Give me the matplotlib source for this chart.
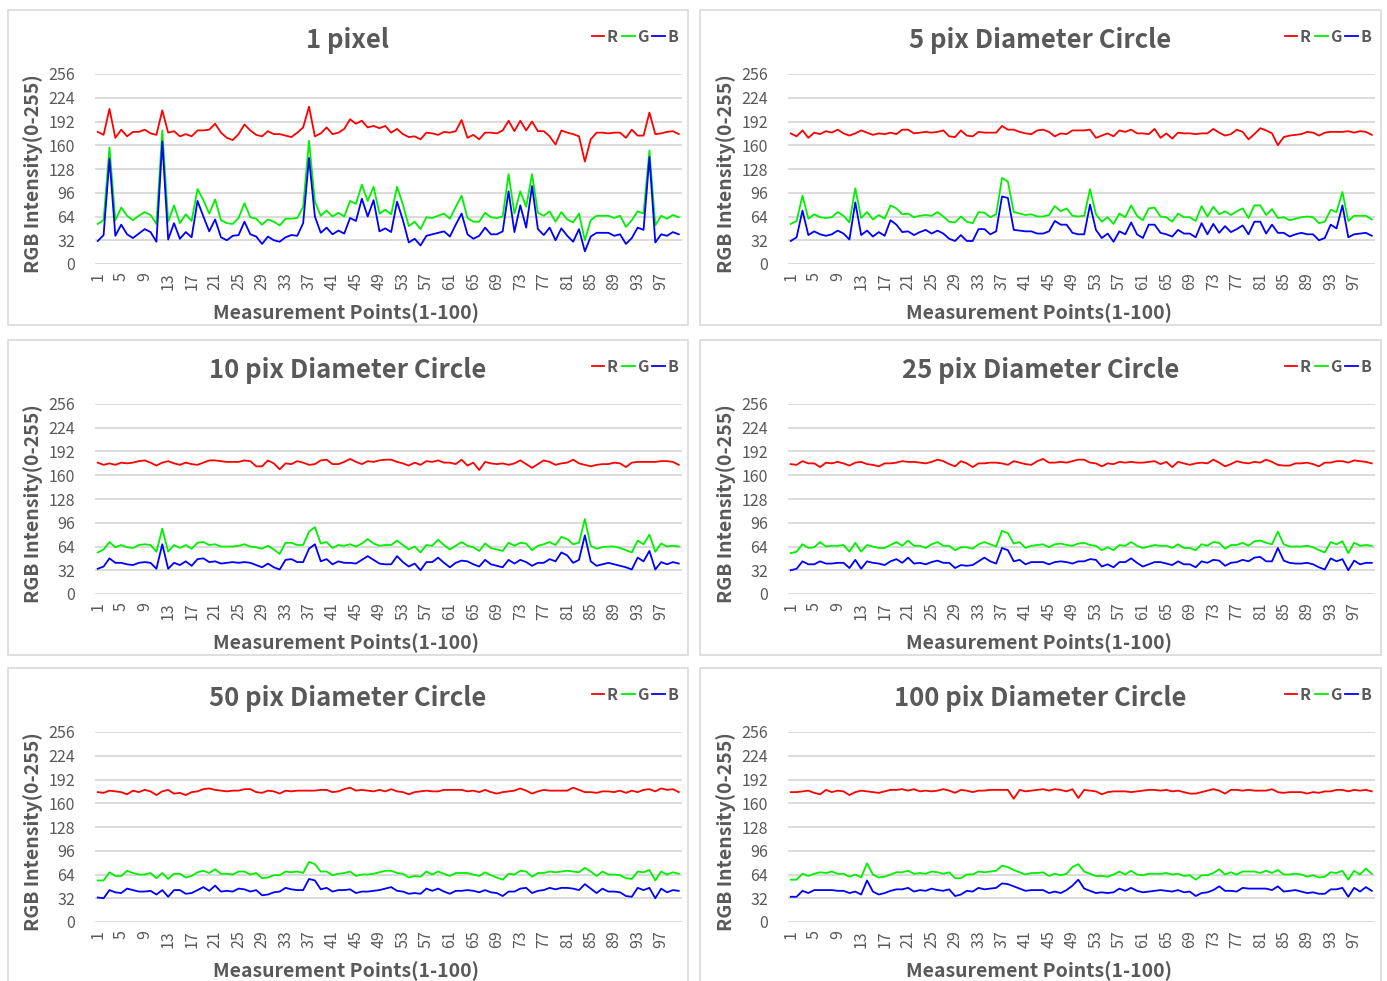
import matplotlib
matplotlib.use('Agg')
import matplotlib.pyplot as plt
from matplotlib.patches import Rectangle

plt.rcParams['font.family'] = ['Noto Sans CJK KR', 'DejaVu Sans']

# ---------------- data ----------------
titles = ["1 pixel", "5 pix Diameter Circle", "10 pix Diameter Circle",
          "25 pix Diameter Circle", "50 pix Diameter Circle", "100 pix Diameter Circle"]
points = list(range(1, 101))
xtick_positions = list(range(1, 101, 4))
xtick_labels = [str(i) for i in xtick_positions]
yticks = [0, 32, 64, 96, 128, 160, 192, 224, 256]
series_names = ["R", "G", "B"]

r_1px = [178,174,209,170,181,172,178,178,181,176, 174,207,177,179,172,175,172,180,180,181,
         189,177,170,167,175,188,180,174,172,179, 175,175,173,171,177,184,212,172,176,184,
         175,177,182,195,189,193,184,186,183,186, 177,182,175,171,172,168,177,176,174,178,
         177,179,194,170,174,168,177,177,176,180, 193,179,193,180,192,179,179,172,161,180,
         177,175,172,138,168,177,177,176,177,177, 170,181,173,173,204,175,176,178,179,175]
g_1px = [54,59,157,59,76,65,59,65,70,66, 54,180,57,79,55,67,58,101,86,68,
         87,59,55,54,62,82,63,61,53,60, 57,52,61,61,62,77,166,84,65,72,
         64,69,64,85,81,107,85,104,68,73, 67,104,80,51,57,47,63,62,65,68,
         61,77,92,62,57,57,69,63,62,64, 121,68,98,77,121,69,65,71,57,70,
         60,56,68,32,59,65,65,65,62,65, 50,59,71,68,153,52,65,61,66,63]
b_1px = [31,39,142,38,53,40,35,41,47,43, 30,165,33,55,34,43,36,85,64,44,
         60,36,32,38,39,57,40,37,27,37, 32,30,36,39,38,55,143,64,42,49,
         40,45,41,62,58,88,64,86,44,48, 43,84,59,29,34,25,38,40,42,44,
         37,53,68,40,34,38,49,40,40,44, 98,43,79,49,105,47,39,49,32,48,
         38,30,47,17,37,42,42,42,38,40, 27,35,49,46,144,29,40,38,43,40]

r_5px = [176,172,180,170,177,175,179,177,181,176, 173,176,180,177,174,176,175,177,175,181,
         181,176,177,178,177,178,180,172,171,180, 173,172,178,177,177,177,186,181,181,178,
         176,175,180,181,178,172,176,175,180,180, 180,181,170,173,176,172,180,178,181,176,
         176,175,182,170,176,169,177,176,176,175, 176,176,182,177,173,175,181,178,168,175,
         183,180,176,160,171,173,174,175,178,177, 173,177,178,178,178,179,177,179,178,174]
g_5px = [54,58,92,61,67,63,62,63,70,65, 56,102,62,70,60,66,61,79,75,67,
         68,63,65,66,65,70,64,57,56,64, 57,55,70,69,63,67,116,111,70,68,
         66,67,64,64,66,78,71,75,65,64, 65,101,67,57,63,54,68,63,79,65,
         59,75,76,64,63,57,68,63,63,58, 78,64,77,67,71,66,71,75,62,79,
         79,66,74,62,63,59,61,63,64,63, 55,57,73,70,97,58,65,65,65,60]
b_5px = [31,36,72,39,44,40,38,40,45,41, 33,83,39,45,37,43,38,59,53,43,
         44,39,43,46,41,45,41,34,31,39, 31,31,47,47,40,44,91,89,46,45,
         44,44,41,41,44,58,53,53,42,40, 40,80,46,35,41,30,44,40,56,40,
         35,53,53,42,40,37,46,41,41,36, 55,40,54,42,51,43,47,52,40,57,
         57,41,53,42,42,37,40,42,40,40, 32,35,53,48,79,36,40,41,42,38]

r_10px = [177,174,176,174,177,176,177,179,180,177, 173,177,179,176,174,177,175,174,177,180,
          180,179,178,178,178,180,179,172,172,180, 176,168,176,175,179,177,174,175,180,181,
          175,175,178,182,178,175,179,178,180,181, 181,178,176,173,177,174,179,178,180,177,
          177,175,181,173,177,167,178,176,175,176, 174,176,180,175,170,175,180,178,174,176,
          177,181,176,174,172,174,175,175,177,176, 171,177,178,178,178,178,179,179,178,174]
g_10px = [56,60,70,63,66,63,62,66,67,66, 57,88,57,66,62,66,61,69,70,66,
          67,64,64,64,65,67,64,63,61,65, 60,54,69,69,66,66,84,90,68,70,
          62,66,65,67,64,68,74,68,65,66, 66,72,66,60,64,56,66,65,73,66,
          60,65,70,65,63,58,68,62,60,58, 69,65,69,68,59,65,67,70,66,77,
          74,67,69,101,65,61,63,64,64,62, 59,56,72,67,80,57,68,64,65,64]
b_10px = [34,37,48,42,42,40,39,42,43,42, 34,67,34,42,39,44,38,47,48,43,
          44,41,42,43,42,43,42,39,36,41, 36,33,46,47,43,43,61,67,44,47,
          40,44,42,42,41,46,51,46,41,40, 40,51,43,37,41,32,43,43,49,42,
          36,42,45,44,40,37,46,40,38,36, 46,41,46,43,38,42,42,47,44,56,
          52,42,46,79,44,38,40,42,40,38, 36,33,49,44,58,33,43,40,43,41]

r_25px = [175,174,179,176,176,171,177,176,178,176, 173,177,178,175,174,172,176,176,177,179,
          178,178,177,176,178,181,179,175,172,179, 176,171,176,176,177,177,176,174,179,177,
          175,174,179,182,177,177,178,177,179,181, 181,177,176,172,176,175,178,177,178,177,
          177,178,179,175,178,171,178,176,174,176, 177,176,181,177,172,175,179,177,176,178,
          177,181,178,174,173,173,176,176,177,175, 172,177,177,179,179,177,180,179,178,176]
g_25px = [55,57,67,62,63,70,64,65,65,66, 57,69,57,66,64,62,62,66,70,65,
          72,65,65,62,67,70,65,65,59,63, 63,61,67,70,67,64,85,82,68,70,
          62,65,66,67,63,67,68,66,65,68, 69,66,65,59,63,59,66,65,70,65,
          62,64,66,65,65,62,67,62,62,59, 67,65,70,69,61,66,66,69,65,71,
          72,69,67,84,67,64,64,64,65,63, 59,56,70,67,71,55,69,65,66,65]
b_25px = [32,34,44,40,40,44,41,41,42,42, 35,46,34,44,42,41,39,44,47,42,
          49,41,42,40,43,45,42,42,35,39, 38,39,44,49,44,41,62,59,44,46,
          40,43,43,43,40,43,44,43,41,44, 44,47,46,37,40,36,43,43,48,42,
          37,40,43,43,41,39,44,40,40,36, 44,42,46,45,38,42,43,46,44,49,
          50,44,44,62,45,42,41,41,42,40, 36,33,48,44,47,32,45,40,42,42]

r_50px = [175,174,177,176,175,172,177,175,178,176, 171,176,178,173,174,171,175,176,179,180,
          178,177,176,177,177,179,179,175,174,177, 176,173,177,176,177,177,177,177,178,178,
          175,176,179,181,177,178,177,176,178,176, 179,176,175,172,175,176,177,176,176,178,
          178,178,178,176,177,175,178,175,173,175, 176,177,180,177,173,176,178,177,177,177,
          177,181,178,175,175,174,176,176,175,177, 174,177,175,178,179,176,180,178,179,175]
g_50px = [56,56,67,62,62,69,66,64,64,66, 59,66,58,65,65,60,62,67,69,66,
          71,65,65,64,68,68,64,66,59,60, 63,63,68,67,68,66,81,78,68,68,
          63,65,66,68,62,64,64,65,67,69, 69,66,65,60,62,61,68,64,68,65,
          62,66,66,66,64,62,67,63,60,57, 65,64,69,68,61,66,66,68,67,68,
          69,68,67,73,68,62,68,64,64,63, 59,58,68,67,70,56,68,64,67,65]
b_50px = [33,32,43,40,39,45,43,41,41,42, 37,43,34,43,43,38,39,43,47,42,
          49,41,42,41,45,44,41,43,36,37, 40,41,46,44,43,43,58,56,44,46,
          41,43,43,44,39,41,41,42,43,45, 47,42,41,38,39,38,45,42,45,41,
          38,42,42,43,42,40,43,40,39,35, 41,41,45,46,39,42,43,46,44,46,
          46,45,43,51,45,39,45,41,41,40, 35,34,46,43,46,32,45,40,43,42]

r_100px = [175,175,176,177,174,172,178,175,177,176, 171,175,177,176,175,174,176,178,178,179,
           177,179,176,177,176,177,179,177,174,178, 177,175,177,177,178,178,178,178,166,178,
           176,177,178,179,177,179,178,176,179,167, 178,177,176,172,175,176,176,176,175,176,
           177,178,178,177,178,176,177,175,173,173, 175,177,179,177,173,178,178,177,178,177,
           177,177,179,175,174,175,175,175,173,175, 174,176,176,178,178,176,178,177,178,176]
g_100px = [57,57,65,62,65,67,66,68,65,65, 61,64,60,79,64,60,61,64,67,67,
           69,65,66,65,68,67,65,67,59,59, 64,64,68,67,68,69,76,74,70,67,
           64,66,66,67,62,65,63,65,74,78, 68,65,62,62,61,64,68,64,69,64,
           63,65,65,65,66,64,65,62,63,57, 63,63,66,71,64,67,64,68,68,68,
           66,69,66,70,64,64,65,64,61,63, 60,61,67,66,69,57,69,64,72,65]
b_100px = [34,34,42,39,43,43,43,43,42,42, 39,41,37,56,41,37,39,42,44,44,
           46,41,43,42,45,43,42,44,35,37, 42,41,46,44,45,46,52,51,48,45,
           42,43,43,43,39,41,39,43,49,57, 45,42,39,40,39,40,45,42,46,42,
           40,41,42,43,42,41,43,40,41,35, 39,40,43,48,42,42,41,46,45,45,
           45,45,43,48,41,42,43,41,39,40, 38,38,44,44,46,34,46,41,47,42]

panel_series = [(r_1px, g_1px, b_1px), (r_5px, g_5px, b_5px), (r_10px, g_10px, b_10px),
                (r_25px, g_25px, b_25px), (r_50px, g_50px, b_50px), (r_100px, g_100px, b_100px)]

# ---------------- layout ----------------
W, H = 1387, 981
fig = plt.figure(figsize=(W / 100, H / 100), dpi=100)
fig.patch.set_facecolor('white')

TXT = '#595959'
GRID = '#D9D9D9'
COLORS = ['#FF0000', '#00F000', '#0000FF']

box_x = [8, 700]
box_w = [680, 681]
box_y = [10, 340, 668]
box_h = 315
ax_top = [74, 404, 732]
ax_h = 190
col_off = [0, 693]


def fx(px):
    return px / W


def fy(py):
    return 1 - py / H


for idx, (title, series) in enumerate(zip(titles, panel_series)):
    c, r = idx % 2, idx // 2
    fig.add_artist(Rectangle((fx(box_x[c]), fy(box_y[r] + box_h)), box_w[c] / W, box_h / H,
                             transform=fig.transFigure, fill=False, ec=GRID, lw=1.2))
    left = 94.8 + col_off[c]
    right = 681.7 + col_off[c]
    top = ax_top[r]
    bottom = top + ax_h
    ax = fig.add_axes([fx(left), fy(bottom), (right - left) / W, ax_h / H])
    handles = []
    for vals, col, name in zip(series, COLORS, series_names):
        ln, = ax.plot(points, vals, color=col, lw=1.3, label=name)
        handles.append(ln)
    ax.set_xlim(0.5, 100.5)
    ax.set_ylim(0, 256)
    ax.set_yticks(yticks)
    ax.set_xticks(xtick_positions)
    ax.set_xticklabels(xtick_labels, rotation=90)
    ax.tick_params(axis='both', length=0, labelsize=11.5, colors=TXT)
    ax.tick_params(axis='y', pad=14)
    ax.tick_params(axis='x', pad=6)
    ax.set_axisbelow(True)
    ax.grid(axis='y', color=GRID, lw=1.3)
    ax.grid(axis='x', visible=False)
    for s in ax.spines.values():
        s.set_visible(False)
    ax.set_facecolor('none')

    cx = box_x[c] + box_w[c] / 2
    fig.text(fx(cx), fy(top - 34), title, ha='center', va='center',
             fontsize=18.5, fontweight='bold', color=TXT)
    fig.text(fx(cx - 2), fy(bottom + 49), "Measurement Points(1-100)", ha='center', va='center',
             fontsize=14, fontweight='bold', color=TXT)
    fig.text(fx(33 + col_off[c]), fy(top + ax_h / 2 + 5), "RGB Intensity(0-255)", ha='center',
             va='center', rotation=90, fontsize=14, fontweight='bold', color=TXT)

    ax.legend(handles=handles, loc='center', ncol=3,
              bbox_to_anchor=(fx(635 + col_off[c]), fy(top - 37)),
              bbox_transform=fig.transFigure, frameon=False, fontsize=11.5,
              handlelength=0.8, handletextpad=0.15, columnspacing=0.25,
              borderpad=0, labelcolor=TXT, prop={'weight': 'bold', 'size': 11.5})

fig.savefig('out.png', dpi=100, facecolor='white')
